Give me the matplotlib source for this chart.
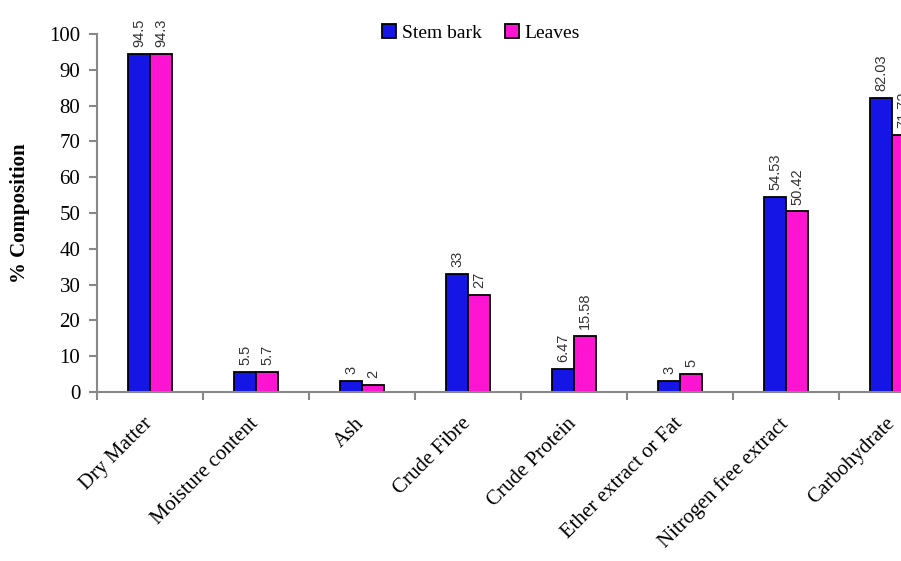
import matplotlib
matplotlib.use("Agg")
import matplotlib.pyplot as plt
import matplotlib.transforms as mtransforms
import numpy as np

categories = ["Dry Matter", "Moisture content", "Ash", "Crude Fibre", "Crude Protein",
              "Ether extract or Fat", "Nitrogen free extract", "Carbohydrate"]
stem_bark = [94.5, 5.5, 3, 33, 6.47, 3, 54.53, 82.03]
leaves = [94.3, 5.7, 2, 27, 15.58, 5, 50.42, 71.72]
stem_labels = ["94.5", "5.5", "3", "33", "6.47", "3", "54.53", "82.03"]
leaf_labels = ["94.3", "5.7", "2", "27", "15.58", "5", "50.42", "71.72"]
yticks = [0, 10, 20, 30, 40, 50, 60, 70, 80, 90, 100]

W, H = 901, 561
fig = plt.figure(figsize=(W / 100, H / 100), dpi=100)
ax = fig.add_axes([97 / W, (H - 392) / H, 848 / W, 358 / H])

x = np.arange(len(categories))
bw = 0.207
blue = "#1515E6"
pink = "#FF14D2"
b1 = ax.bar(x - bw / 2, stem_bark, bw, color=blue, edgecolor="black", linewidth=1.3, label="Stem bark")
b2 = ax.bar(x + bw / 2, leaves, bw, color=pink, edgecolor="black", linewidth=1.3, label="Leaves")

for xi, v, t in zip(x - bw / 2, stem_bark, stem_labels):
    ax.annotate(t, (xi, v), xytext=(0, 5), textcoords="offset points", rotation=90,
                ha="center", va="bottom", fontsize=10.5, family="Liberation Sans", color="#333333")
for xi, v, t in zip(x + bw / 2, leaves, leaf_labels):
    ax.annotate(t, (xi, v), xytext=(0, 5), textcoords="offset points", rotation=90,
                ha="center", va="bottom", fontsize=10.5, family="Liberation Sans", color="#333333",
                annotation_clip=False)

ax.set_xlim(-0.5, len(categories) - 0.5)
ax.set_ylim(0, 100)
ax.set_yticks(yticks)
ax.set_yticklabels([str(t) for t in yticks], family="Liberation Serif", fontsize=15)
ax.set_xticks(np.arange(-0.5, len(categories)))
ax.set_xticklabels([])
ax.tick_params(axis="x", length=6, color="#888888", width=1.5)
ax.tick_params(axis="y", length=6, color="#888888", width=1.5, pad=6)

lab_tr = ax.get_xaxis_transform() + mtransforms.ScaledTranslation(-0.07, -0.22, fig.dpi_scale_trans)
for xi, name in zip(x, categories):
    ax.text(xi, 0, name, transform=lab_tr, rotation=45, ha="right", va="top",
            rotation_mode="anchor", family="Liberation Serif", fontsize=15, clip_on=False)

for s in ["top", "right"]:
    ax.spines[s].set_visible(False)
for s in ["left", "bottom"]:
    ax.spines[s].set_color("#888888")
    ax.spines[s].set_linewidth(1.5)

ax.set_ylabel("% Composition", family="Liberation Serif", fontsize=15, fontweight="bold", labelpad=14)

leg = fig.legend(handles=[b1, b2], loc="center", bbox_to_anchor=(481 / W, 1 - 33 / H), ncol=2,
                 frameon=False, prop={"family": "Liberation Serif", "size": 14},
                 handlelength=0.7, handleheight=0.7, handletextpad=0.3, columnspacing=1.2)

fig.savefig("out.png", dpi=100)
